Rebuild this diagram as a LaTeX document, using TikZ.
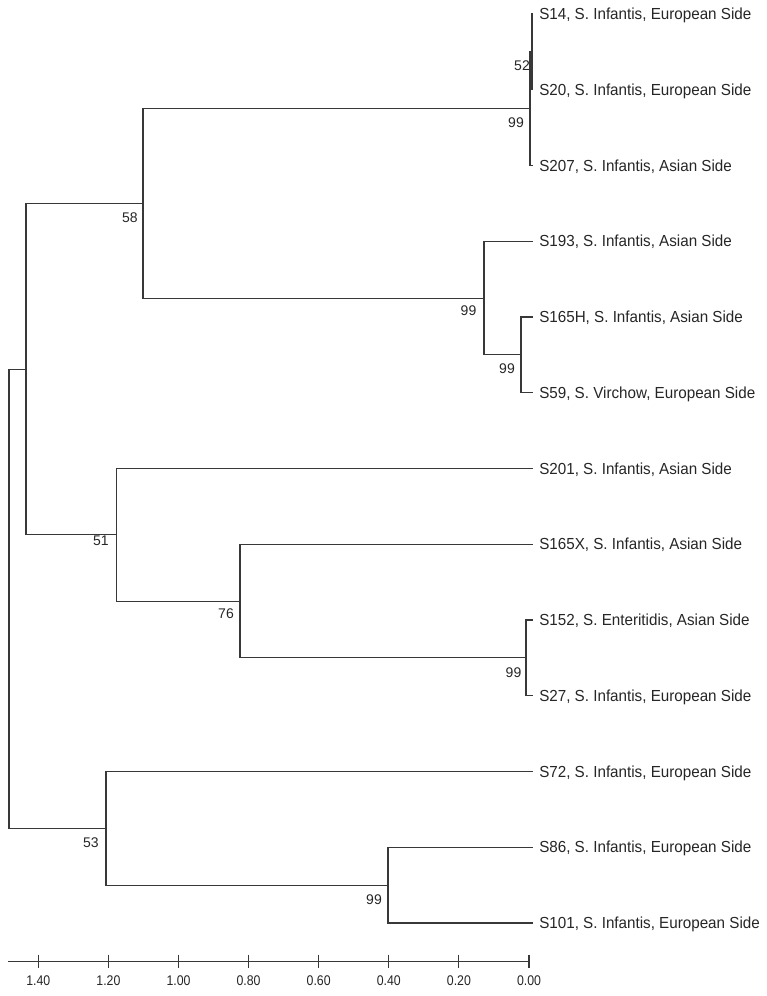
\documentclass[tikz,border=0pt]{standalone}
\usepackage{fontspec}
\setmainfont{Liberation Sans}
\begin{document}
\begin{tikzpicture}[x=0.75pt,y=-0.75pt,
  branch/.style={draw=black!78, line width=0.8pt},
  leaf/.style={anchor=base west, inner sep=0pt, text=black!85,
    font=\fontsize{12}{14}\selectfont, xscale=0.95},
  boot/.style={inner sep=0pt, text=black!85, font=\fontsize{10.5}{12}\selectfont,
    text height=7.5pt, text depth=0pt},
  axislab/.style={inner sep=0pt, text=black!85, font=\fontsize{10.5}{12}\selectfont,
    text height=7.5pt, text depth=0pt, xscale=0.88}]
\useasboundingbox (0,0) rectangle (767,996);

% leaf tips and labels
\foreach \i/\y/\t in {
  0/14/{S14, S. Infantis, European Side},
  1/89.75/{S20, S. Infantis, European Side},
  2/165.5/{S207, S. Infantis, Asian Side},
  3/241.25/{S193, S. Infantis, Asian Side},
  4/317/{S165H, S. Infantis, Asian Side},
  5/392.75/{S59, S. Virchow, European Side},
  6/468.5/{S201, S. Infantis, Asian Side},
  7/544.25/{S165X, S. Infantis, Asian Side},
  8/620/{S152, S. Enteritidis, Asian Side},
  9/695.75/{S27, S. Infantis, European Side},
  10/771.5/{S72, S. Infantis, European Side},
  11/847.25/{S86, S. Infantis, European Side},
  12/923/{S101, S. Infantis, European Side}}{
  \coordinate (t\i) at (533,\y);
  \node[leaf] (l\i) at (539,\y+5.7) {\t};
}

% internal nodes
\coordinate (D) at (532,51.9);
\coordinate (C) at (530,108.7);
\coordinate (F) at (521,354.9);
\coordinate (E) at (484,298.1);
\coordinate (B) at (143,203.4);
\coordinate (I) at (526,657.9);
\coordinate (H) at (240,601.1);
\coordinate (G) at (116.5,534.8);
\coordinate (A) at (26,369.1);
\coordinate (K) at (388,885.1);
\coordinate (J) at (106,828.3);
\coordinate (R) at (9,598.7);

% branches
\draw[branch] (R) |- (A);  \draw[branch] (R) |- (J);
\draw[branch] (A) |- (B);  \draw[branch] (A) |- (G);
\draw[branch] (B) |- (C);  \draw[branch] (B) |- (E);
\draw[branch] (C) |- (D);  \draw[branch] (C) |- (t2);
\draw[branch] (D) |- (t0); \draw[branch] (D) |- (t1);
\draw[branch] (E) |- (t3); \draw[branch] (E) |- (F);
\draw[branch] (F) |- (t4); \draw[branch] (F) |- (t5);
\draw[branch] (G) |- (t6); \draw[branch] (G) |- (H);
\draw[branch] (H) |- (t7); \draw[branch] (H) |- (I);
\draw[branch] (I) |- (t8); \draw[branch] (I) |- (t9);
\draw[branch] (J) |- (t10); \draw[branch] (J) |- (K);
\draw[branch] (K) |- (t11); \draw[branch] (K) |- (t12);

% bootstrap values
\node[boot] (bD) at (522,65) {52};
\node[boot] (bC) at (516,122) {99};
\node[boot] (bB) at (130,217) {58};
\node[boot] (bE) at (468.5,310) {99};
\node[boot] (bF) at (507,368) {99};
\node[boot] (bG) at (101,540) {51};
\node[boot] (bH) at (226,613) {76};
\node[boot] (bI) at (513.5,672) {99};
\node[boot] (bJ) at (91,842) {53};
\node[boot] (bK) at (374,899) {99};

% scale axis
\coordinate (ax0) at (8,961.7);
\coordinate (ax1) at (529,961.7);
\draw[branch] (ax0) -- (ax1);
\foreach \x/\v in {38.3/1.40,108.4/1.20,178.5/1.00,248.6/0.80,318.7/0.60,388.8/0.40,458.9/0.20,529/0.00}{
  \draw[branch] (\x,954.5) -- (\x,968);
  \node[axislab] at (\x,980.5) {\v};
}
\end{tikzpicture}
\end{document}
